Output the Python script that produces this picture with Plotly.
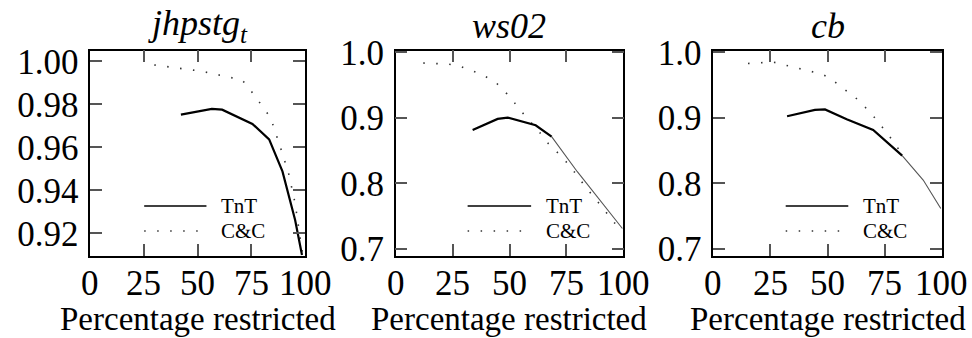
import plotly.graph_objects as go

# ---------------- data ----------------
titles = ["<i>jhpstg</i><sub><i>t</i></sub>", "<i>ws02</i>", "<i>cb</i>"]
x_label = "Percentage restricted"
x_ticks = [0, 25, 50, 75, 100]

# jhpstg_t
tnt1_x = [42.2, 56.6, 61.4, 75.5, 83.3, 89.5, 95.4, 98.6]
tnt1_y = [0.9752, 0.9779, 0.9775, 0.9709, 0.9637, 0.9488, 0.9262, 0.9100]
cc1_x = [29.8, 52.1, 70.7, 74.1, 80.5, 84.0, 88.4, 92.3, 95.4, 97.5, 99.2]
cc1_y = [0.9983, 0.9953, 0.9913, 0.9873, 0.9786, 0.9737, 0.9604, 0.9482, 0.9340, 0.9185, 0.9080]
y1_ticks = [0.92, 0.94, 0.96, 0.98, 1.00]

# ws02
tnt2_x = [33.8, 44.8, 49.2, 61.5, 68.5, 79.8, 99.6]
tnt2_y = [0.8816, 0.8985, 0.9005, 0.8888, 0.8714, 0.8178, 0.7310]
cc2_x = [12.1, 23.1, 27.8, 37.3, 43.6, 48.9, 52.7, 56.4, 62.4, 67.1, 71.4, 75.4, 79.9, 83.3, 87.0, 93.1, 96.6, 99.6]
cc2_y = [0.9838, 0.9822, 0.9796, 0.9670, 0.9556, 0.9367, 0.9210, 0.9050, 0.8816, 0.8607, 0.8460, 0.8310, 0.8112, 0.7948, 0.7795, 0.7540, 0.7377, 0.7310]

# cb
tnt3_x = [32.3, 44.5, 48.9, 58.4, 70.0, 82.7, 91.9, 99.6]
tnt3_y = [0.9026, 0.9122, 0.9129, 0.8980, 0.8816, 0.8423, 0.8050, 0.7617]
cc3_x = [15.2, 26.3, 28.6, 36.2, 41.8, 47.5, 51.1, 59.3, 63.8, 67.6, 71.5, 75.6, 79.3, 82.6]
cc3_y = [0.9832, 0.9853, 0.9832, 0.9770, 0.9720, 0.9670, 0.9608, 0.9394, 0.9265, 0.9122, 0.8970, 0.8786, 0.8620, 0.8444]
y23_ticks = [0.7, 0.8, 0.9, 1.0]

series_names = ["TnT", "C&C"]

# ---------------- style / layout ----------------
FONT = "Liberation Serif, DejaVu Serif, serif"
W, H = 972, 338
top_px, bot_px = 50.5, 256.0
x_dom_px = [(90.3, 305.0), (395.7, 623.3), (713.3, 941.7)]
y_ranges = [[0.9095, 1.005], [0.689, 1.003], [0.689, 1.003]]
thick_n = [len(tnt1_x), 5, 6]   # number of TnT points drawn thick
legend_pos = [(0.251, 0.541, 0.600), (0.316, 0.595, 0.650), (0.317, 0.591, 0.648)]
TICK_SIZE = 35

panels = [
    (tnt1_x, tnt1_y, cc1_x, cc1_y, y1_ticks, "%.2f"),
    (tnt2_x, tnt2_y, cc2_x, cc2_y, y23_ticks, "%.1f"),
    (tnt3_x, tnt3_y, cc3_x, cc3_y, y23_ticks, "%.1f"),
]

fig = go.Figure()
layout = dict(width=W, height=H, margin=dict(l=0, r=0, t=0, b=0),
              paper_bgcolor="white", plot_bgcolor="white", showlegend=False,
              font=dict(family=FONT, color="black"))
annotations = []
shapes = []
ydom = [1 - bot_px / H, 1 - top_px / H]

for i, (tx, ty, cx, cy, yt, fmt) in enumerate(panels):
    k = i + 1
    xa = "x" if k == 1 else f"x{k}"
    ya = "y" if k == 1 else f"y{k}"
    xd = [x_dom_px[i][0] / W, x_dom_px[i][1] / W]

    # C&C dotted
    fig.add_trace(go.Scatter(x=cx, y=cy, mode="lines", xaxis=xa, yaxis=ya,
                             line=dict(color="#333333", width=1.6, dash="1.5px,11.5px"),
                             name=series_names[1]))
    # TnT thin tail
    n = thick_n[i]
    if n < len(tx):
        fig.add_trace(go.Scatter(x=tx[n - 1:], y=ty[n - 1:], mode="lines", xaxis=xa, yaxis=ya,
                                 line=dict(color="#555555", width=1.1), name=series_names[0]))
    # TnT thick
    fig.add_trace(go.Scatter(x=tx[:n], y=ty[:n], mode="lines", xaxis=xa, yaxis=ya,
                             line=dict(color="black", width=2.2), name=series_names[0]))

    axis_common = dict(showline=True, linecolor="black", linewidth=1.5, mirror="allticks",
                       ticks="inside", ticklen=12, tickwidth=1.5, tickcolor="#555555",
                       showgrid=False, zeroline=False,
                       tickfont=dict(size=TICK_SIZE, family=FONT), automargin=False)
    layout[f"xaxis{'' if k == 1 else k}"] = dict(
        domain=xd, range=[0, 100], tickvals=x_ticks, showticklabels=False,
        anchor=ya, **axis_common)
    layout[f"yaxis{'' if k == 1 else k}"] = dict(
        domain=ydom, range=y_ranges[i], tickvals=yt, ticktext=[fmt % v for v in yt],
        anchor=xa, ticklabelstandoff=3, **axis_common)

    # x tick labels placed at their data positions
    for v in x_ticks:
        annotations.append(dict(text=str(v), x=v, xref=xa, y=1 - 283 / H, yref="paper",
                                showarrow=False, xanchor="center", yanchor="middle",
                                font=dict(size=TICK_SIZE, family=FONT)))

    xc = (xd[0] + xd[1]) / 2
    annotations.append(dict(text=titles[i], x=xc, y=1 - 26 / H, xref="paper", yref="paper",
                            showarrow=False, xanchor="center", yanchor="middle",
                            font=dict(size=36, family=FONT)))
    annotations.append(dict(text=x_label, x=xc, y=0, xref="paper", yref="paper",
                            showarrow=False, xanchor="center", yanchor="bottom",
                            borderpad=0, font=dict(size=33, family=FONT)))

    # legend (inside, lower right)
    l0, l1, tx0 = legend_pos[i]
    for j, (yy, dash, col, wd) in enumerate([(0.243, "solid", "black", 1.6),
                                              (0.122, "1.5px,11.5px", "#333333", 1.6)]):
        shapes.append(dict(type="line", xref=f"{xa} domain", yref=f"{ya} domain",
                           x0=l0, x1=l1, y0=yy, y1=yy,
                           line=dict(color=col, width=wd, dash=dash)))
        annotations.append(dict(text=series_names[j], x=tx0, y=yy, xref=f"{xa} domain",
                                yref=f"{ya} domain", showarrow=False, xanchor="left",
                                yanchor="middle", font=dict(size=21, family=FONT)))

layout["annotations"] = annotations
layout["shapes"] = shapes
fig.update_layout(**layout)
fig.write_html("out.html")
